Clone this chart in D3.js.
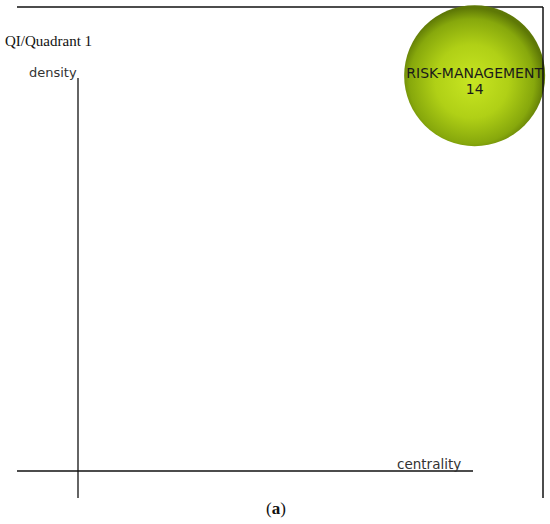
<!DOCTYPE html>
<html>
<head>
<meta charset="utf-8">
<script src="https://cdn.jsdelivr.net/npm/d3@7"></script>
<style>
  body { margin: 0; background: #fff; }
  svg { display: block; }
</style>
</head>
<body>
<div id="chart"></div>
<script>
// strategic diagram, quadrant 1
const themes = ['RISK-MANAGEMENT']
const docCounts = [14]
const centrality = [0.853]
const density = [0.852]

const w = 550
const h = 524

const svg = d3.select('#chart').append('svg')
  .attr('width', w)
  .attr('height', h)

const x = d3.scaleLinear().domain([0, 1]).range([78, 543])
const y = d3.scaleLinear().domain([0, 1]).range([471, 7])
const r = d3.scaleSqrt().domain([0, 14]).range([0, 70.5])

const defs = svg.append('defs')
const grad = defs.append('radialGradient')
  .attr('id', 'ball')
  .attr('cx', '48%').attr('cy', '54%').attr('r', '52%')
grad.append('stop').attr('offset', '0%').attr('stop-color', '#c8e622')
grad.append('stop').attr('offset', '50%').attr('stop-color', '#b0d016')
grad.append('stop').attr('offset', '85%').attr('stop-color', '#87a80c')
grad.append('stop').attr('offset', '100%').attr('stop-color', '#5e7806')

// frame
svg.append('line')
  .attr('x1', 17).attr('x2', 543).attr('y1', 7).attr('y2', 7)
  .attr('stroke', '#111').attr('stroke-width', 1.3)

const nodes = themes.map((t, i) => ({ name: t, n: docCounts[i], c: centrality[i], d: density[i] }))

const g = svg.append('g')
g.selectAll('circle')
  .data(nodes)
  .enter().append('circle')
  .attr('cx', d => x(d.c))
  .attr('cy', d => y(d.d))
  .attr('r', d => r(d.n))
  .style('fill', 'url(#ball)')

g.selectAll('text.name')
  .data(nodes)
  .enter().append('text')
  .attr('class', 'name')
  .attr('x', d => x(d.c))
  .attr('y', d => y(d.d) + 2)
  .attr('text-anchor', 'middle')
  .style('font-family', 'DejaVu Sans, sans-serif')
  .style('font-size', '14px')
  .style('fill', '#1a1a1a')
  .text(d => d.name)

g.selectAll('text.count')
  .data(nodes)
  .enter().append('text')
  .attr('class', 'count')
  .attr('x', d => x(d.c))
  .attr('y', d => y(d.d) + 18)
  .attr('text-anchor', 'middle')
  .style('font-family', 'DejaVu Sans, sans-serif')
  .style('font-size', '14px')
  .style('fill', '#1a1a1a')
  .text(d => d.n)

svg.append('line')
  .attr('x1', 543).attr('x2', 543).attr('y1', 7).attr('y2', 498)
  .attr('stroke', '#111').attr('stroke-width', 1.5)

// axes
svg.append('line')
  .attr('x1', 78).attr('x2', 78).attr('y1', 78).attr('y2', 498)
  .attr('stroke', '#111').attr('stroke-width', 1.3)
svg.append('line')
  .attr('x1', 17).attr('x2', 473).attr('y1', 471).attr('y2', 471)
  .attr('stroke', '#111').attr('stroke-width', 1.3)

svg.append('text')
  .attr('x', 29).attr('y', 77)
  .style('font-family', 'DejaVu Sans, sans-serif')
  .style('font-size', '13px')
  .style('fill', '#333')
  .text('density')

svg.append('text')
  .attr('x', 397).attr('y', 469)
  .style('font-family', 'DejaVu Sans, sans-serif')
  .style('font-size', '13.5px')
  .style('fill', '#333')
  .text('centrality')

svg.append('text')
  .attr('x', 5).attr('y', 46)
  .style('font-family', 'Liberation Serif, serif')
  .style('font-size', '15px')
  .style('fill', '#111')
  .text('QI/Quadrant 1')

svg.append('text')
  .attr('x', 276).attr('y', 514)
  .attr('text-anchor', 'middle')
  .style('font-family', 'Liberation Serif, serif')
  .style('font-size', '17px')
  .style('fill', '#111')
  .html('(<tspan font-weight="bold">a</tspan>)')
</script>
</body>
</html>
